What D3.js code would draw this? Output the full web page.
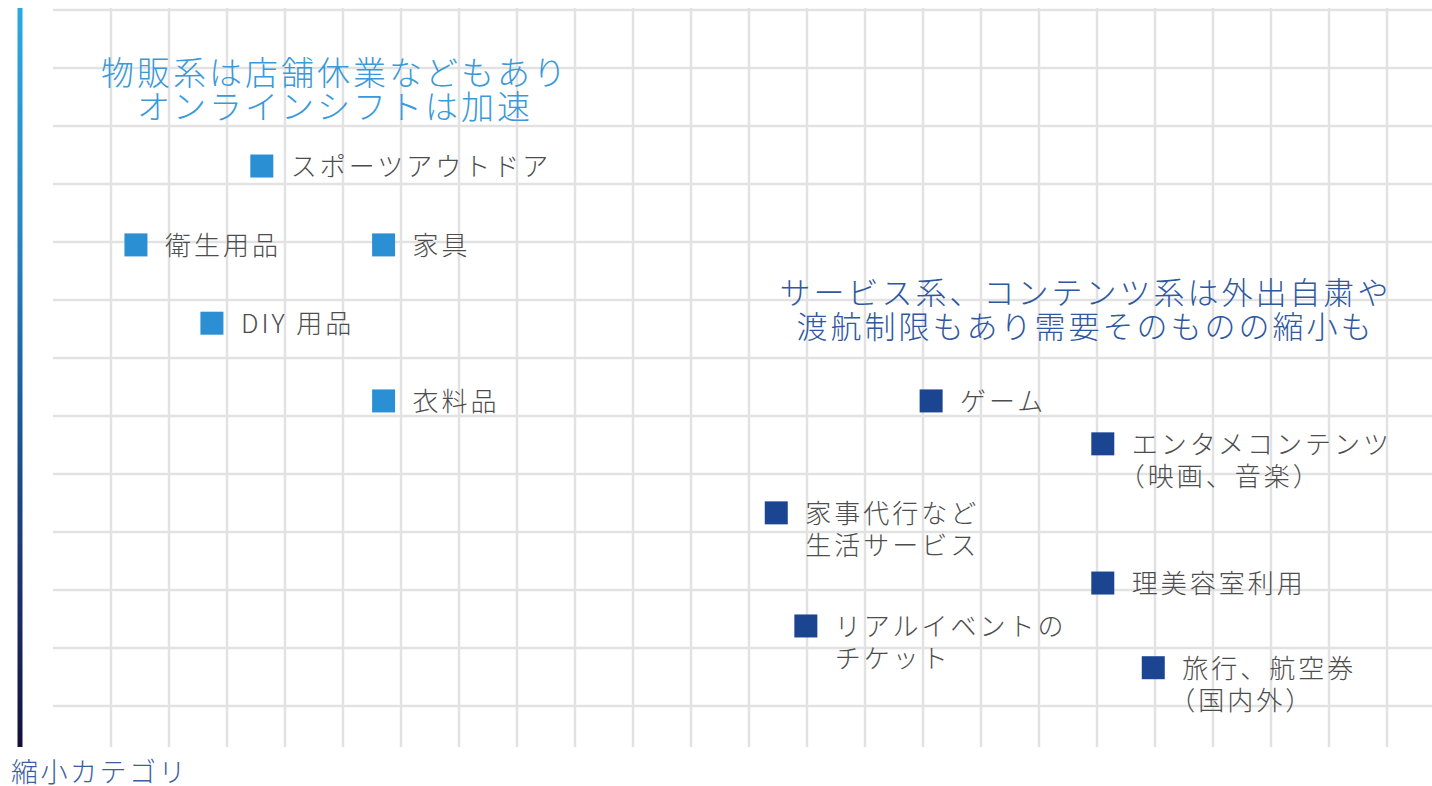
<!DOCTYPE html>
<html lang="ja">
<head>
<meta charset="utf-8">
<script src="https://cdn.jsdelivr.net/npm/d3@7"></script>
<style>
  html, body { margin: 0; padding: 0; background: #fff; }
  svg { display: block; font-family: "Noto Sans CJK JP", "Noto Sans", sans-serif; }
  .label { fill: #4d4d4d; font-size: 26px; letter-spacing: 3px; font-weight: 300; }
  .note { font-size: 31px; letter-spacing: 3px; font-weight: 300; }
</style>
</head>
<body>
<div id="container"></div>
<script>
'use strict';

//Data: category names, growth (x) and shrink level (y), group
const names = [
    ['スポーツアウトドア'],
    ['衛生用品'],
    ['家具'],
    ['DIY 用品'],
    ['衣料品'],
    ['ゲーム'],
    ['エンタメコンテンツ', '（映画、音楽）'],
    ['家事代行など', '生活サービス'],
    ['理美容室利用'],
    ['リアルイベントの', 'チケット'],
    ['旅行、航空券', '（国内外）'],
];
const xValues = [3.6, 1.43, 5.7, 2.74, 5.7, 15.14, 18.1, 12.47, 18.1, 12.98, 18.97];
const yValues = [2.69, 4.05, 4.05, 5.4, 6.74, 6.74, 7.48, 8.67, 9.88, 10.62, 11.34];
const groups = ['retail', 'retail', 'retail', 'retail', 'retail',
    'service', 'service', 'service', 'service', 'service', 'service'];

//Annotations
const noteGroups = ['retail', 'service'];
const noteLines = [
    ['物販系は店舗休業などもあり', 'オンラインシフトは加速'],
    ['サービス系、コンテンツ系は外出自粛や', '渡航制限もあり需要そのものの縮小も'],
];
const noteX = [4.86, 17.8];
const noteY = [1.3, 5.07];
const noteSize = [33, 31];

const axisTitle = '縮小カテゴリ';

//Sizing
const VIZ = {
    WIDTH: 1432,
    HEIGHT: 786,
};
const GRID = {
    LEFT: 53,
    TOP: 10,
    COLS: 23,
    ROWS: 12,
    CELL: 58,
};
const colors = { retail: '#2b8fd3', service: '#1c4591' };
const noteColors = { retail: '#3a9ad9', service: '#2f58a0' };

//Scales: one unit = one grid cell
const x = d3.scaleLinear()
    .domain([0, GRID.COLS])
    .range([GRID.LEFT, GRID.LEFT + GRID.COLS * GRID.CELL]);
const y = d3.scaleLinear()
    .domain([0, GRID.ROWS])
    .range([GRID.TOP, GRID.TOP + GRID.ROWS * GRID.CELL]);

//Canvas
const svg = d3.select('#container')
    .append('svg')
    .attr('width', VIZ.WIDTH)
    .attr('height', VIZ.HEIGHT)
    .attr('viewBox', `0 0 ${VIZ.WIDTH} ${VIZ.HEIGHT}`);

//Gradient for the left bar
const grad = svg.append('defs').append('linearGradient')
    .attr('id', 'barGrad')
    .attr('x1', 0).attr('y1', 0).attr('x2', 0).attr('y2', 1);
grad.selectAll('stop')
    .data([[0, '#2ba9e1'], [0.3, '#2a84c6'], [0.55, '#1d5a98'], [0.8, '#1a2f6a'], [1, '#13103b']])
    .enter().append('stop')
    .attr('offset', d => d[0])
    .attr('stop-color', d => d[1]);

//Grid
const gridG = svg.append('g').attr('stroke', '#e2e2e2').attr('stroke-width', 2.5);
gridG.selectAll('.h')
    .data(d3.range(0, GRID.ROWS + 1))
    .enter().append('line')
    .attr('x1', GRID.LEFT)
    .attr('x2', VIZ.WIDTH)
    .attr('y1', d => y(d))
    .attr('y2', d => y(d));
gridG.selectAll('.v')
    .data(d3.range(1, GRID.COLS + 1))
    .enter().append('line')
    .attr('x1', d => x(d))
    .attr('x2', d => x(d))
    .attr('y1', y(0) - 2)
    .attr('y2', 747);

//Left bar and its title
svg.append('rect')
    .attr('x', 17.5)
    .attr('y', 8)
    .attr('width', 5)
    .attr('height', 739)
    .attr('fill', 'url(#barGrad)');
svg.append('text')
    .attr('x', 11)
    .attr('y', 782)
    .attr('fill', '#3b5ea0')
    .style('font-size', '27px')
    .style('letter-spacing', '2.5px')
    .style('font-weight', 300)
    .text(axisTitle);

//Annotations
noteLines.forEach((lines, i) => {
    const t = svg.append('text')
        .attr('class', 'note')
        .attr('text-anchor', 'middle')
        .style('font-size', `${noteSize[i]}px`)
        .attr('fill', noteColors[noteGroups[i]]);
    lines.forEach((line, j) => {
        t.append('tspan')
            .attr('x', x(noteX[i]))
            .attr('y', y(noteY[i]) + j * 33.5)
            .text(line);
    });
});

//Points
const data = names.map((n, i) => ({ lines: n, x: xValues[i], y: yValues[i], group: groups[i] }));
const SIZE = 23;
const pts = svg.selectAll('.pt')
    .data(data)
    .enter().append('g')
    .attr('class', 'pt')
    .attr('transform', d => `translate(${x(d.x)} ${y(d.y)})`);
pts.append('rect')
    .attr('x', -SIZE / 2)
    .attr('y', -SIZE / 2)
    .attr('width', SIZE)
    .attr('height', SIZE)
    .attr('fill', d => colors[d.group]);
pts.append('text')
    .attr('class', 'label')
    .each(function (d) {
        const t = d3.select(this);
        d.lines.forEach((line, j) => {
            t.append('tspan')
                .attr('x', line.startsWith('（') ? 16 : 29)
                .attr('y', 10 + j * 32)
                .text(line);
        });
    });
</script>
</body>
</html>
